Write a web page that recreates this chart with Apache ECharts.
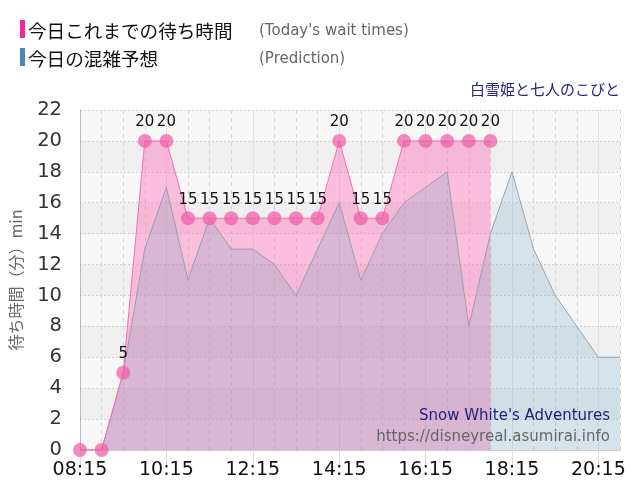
<!DOCTYPE html>
<html><head><meta charset="utf-8">
<script src="https://cdn.jsdelivr.net/npm/echarts@6/dist/echarts.min.js"></script>
<style>html,body{margin:0;padding:0;background:#fff}#c{width:640px;height:500px}</style>
</head><body><div id="c"></div>
<script>
const times = ['08:15','08:45','09:15','09:45','10:15','10:45','11:15','11:45','12:15','12:45','13:15','13:45','14:15','14:45','15:15','15:45','16:15','16:45','17:15','17:45','18:15','18:45','19:15','19:45','20:15','20:45'];
const todayWait = [0,0,5,20,20,15,15,15,15,15,15,15,20,15,15,20,20,20,20,20];
const prediction = [0,0,5,13,17,11,15,13,13,12,10,13,16,11,14,16,17,18,8,14,18,13,10,8,6,6];
const yTicks = {min:0, max:22, interval:2};
const title = '白雪姫と七人のこびと';
const subtitle = "Snow White's Adventures";
const site = 'https://disneyreal.asumirai.info';

const chart = echarts.init(document.getElementById('c'));
const latin = '"DejaVu Sans", Verdana, sans-serif';
const jp = '"Noto Sans CJK JP", "DejaVu Sans", sans-serif';
chart.setOption({
  animation:false,
  grid:{left:80,right:20,top:110,bottom:50},
  xAxis:[{
    type:'category', data:times, boundaryGap:false,
    axisLine:{lineStyle:{color:'#cccccc'}},
    axisTick:{interval:3,length:15,lineStyle:{color:'#dddddd'}},
    axisLabel:{interval:3,color:'#111',fontSize:19,fontFamily:latin,margin:11},
    splitLine:{show:true,interval:0,lineStyle:{color:'#d4d4d4',type:[4,4]}}
  },{
    type:'category', data:times, boundaryGap:false, position:'bottom',
    axisLine:{show:false}, axisTick:{show:false}, axisLabel:{show:false},
    splitLine:{show:true,interval:3,lineStyle:{color:'#e2e2e2',type:'solid'}}
  }],
  yAxis:{
    type:'value', min:yTicks.min, max:yTicks.max, interval:yTicks.interval,
    name:'待ち時間（分）min', nameLocation:'middle', nameGap:56, nameRotate:90,
    nameTextStyle:{color:'#666',fontSize:16,fontFamily:jp},
    axisLine:{show:true,lineStyle:{color:'#b8b8cc'}},
    axisTick:{show:false},
    axisLabel:{color:'#333',fontSize:19.5,fontFamily:latin,margin:18},
    splitLine:{lineStyle:{color:'#d0d0d0',type:[2,2]}},
    splitArea:{show:true,areaStyle:{color:['#f7f7f7','#efefef']}}
  },
  series:[
    {type:'line',data:todayWait,symbol:'none',lineStyle:{width:0},
     areaStyle:{color:'rgba(255,105,180,0.4)',opacity:1},z:1,silent:true},
    {type:'line',data:prediction,symbol:'none',
     lineStyle:{color:'rgba(150,155,170,0.9)',width:1},
     areaStyle:{color:'rgba(90,150,185,0.2)',opacity:1},z:2},
    {type:'line',data:todayWait,symbol:'circle',symbolSize:14,showSymbol:true,showAllSymbol:true,
     itemStyle:{color:'rgba(240,90,165,0.7)'},
     lineStyle:{color:'#f56fb2',width:1},
     label:{show:true,position:'top',distance:4,color:'#111',fontSize:15,fontFamily:latin,
       formatter:p=>p.value>0?String(p.value):''},
     labelLayout:{hideOverlap:false},
     z:3}
  ],
  graphic:[
    {type:'rect',shape:{x:20,y:20,width:5,height:18},style:{fill:'#f0289a'}},
    {type:'text',x:28,y:31,style:{text:'今日これまでの待ち時間',fontSize:18.6,fontFamily:jp,fill:'#111',verticalAlign:'middle'}},
    {type:'text',x:259,y:31,style:{text:"(Today's wait times)",fontSize:15,fontFamily:latin,fill:'#666',verticalAlign:'middle'}},
    {type:'rect',shape:{x:20,y:48,width:5,height:18},style:{fill:'#4f86b8'}},
    {type:'text',x:28,y:59,style:{text:'今日の混雑予想',fontSize:18.6,fontFamily:jp,fill:'#111',verticalAlign:'middle'}},
    {type:'text',x:259,y:59,style:{text:'(Prediction)',fontSize:15,fontFamily:latin,fill:'#666',verticalAlign:'middle'}},
    {type:'text',right:20,y:82,style:{text:title,fontSize:15,fontFamily:jp,fill:'#25257a'}},
    {type:'text',right:30,y:409,z:10,style:{text:subtitle,fontSize:15,fontFamily:latin,fill:'#1e1e78'}},
    {type:'text',right:30,y:430,z:10,style:{text:site,fontSize:15,fontFamily:latin,fill:'#666'}}
  ]
});
</script></body></html>
